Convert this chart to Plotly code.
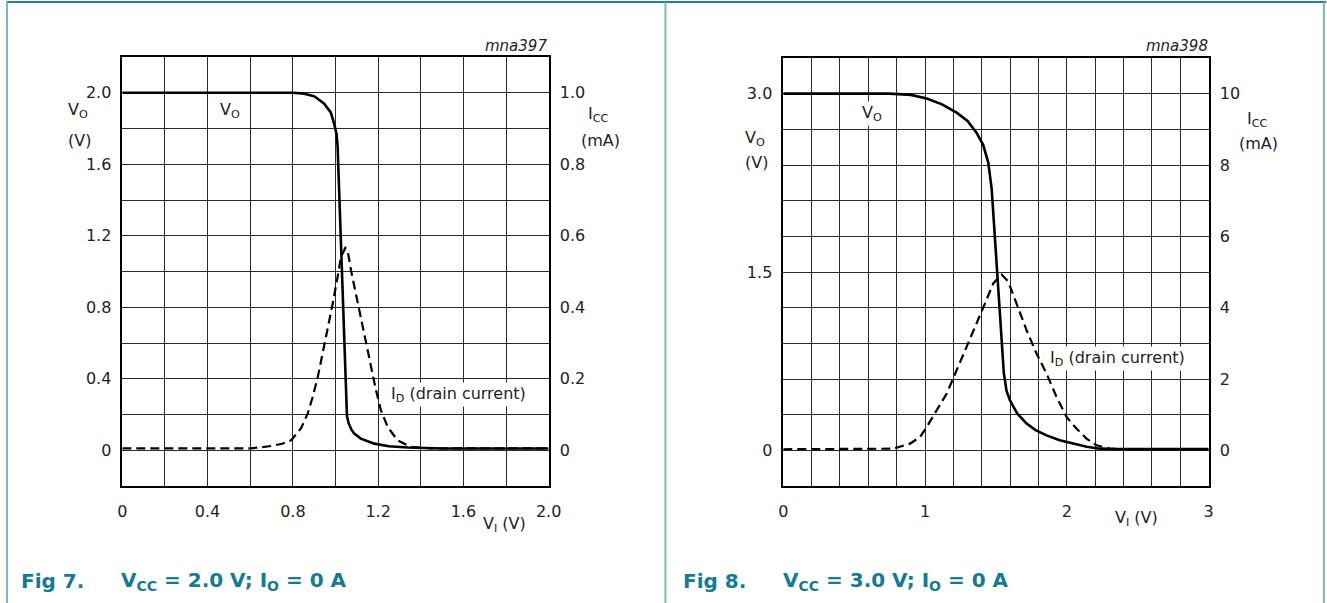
"""
Transfer characteristics (Fig 7 / Fig 8): V_O and I_D versus V_I.
"""

import plotly.graph_objects as go

W, H = 1327, 603
FONT = "DejaVu Sans, Liberation Sans, Arial"
TEAL = "#137b93"

# ---- Fig 7: VCC = 2.0 V ----
vi_vo7 = [0, 0.80, 0.853, 0.901, 0.946, 0.978, 0.993, 1.005, 1.010, 1.026, 1.041,
          1.054, 1.062, 1.075, 1.088, 1.119, 1.182, 1.25, 1.34, 1.5, 2.0]
vo7 = [2.0, 2.0, 1.995, 1.98, 1.94, 1.89, 1.83, 1.77, 1.70, 1.14, 0.58,
       0.19, 0.15, 0.115, 0.093, 0.065, 0.037, 0.022, 0.015, 0.01, 0.01]

vi_id7 = [0, 0.60, 0.70, 0.75, 0.792, 0.838, 0.870, 0.893, 0.917, 0.940, 0.963,
          0.987, 1.010, 1.026, 1.046, 1.057, 1.073, 1.096, 1.119, 1.143, 1.166,
          1.190, 1.213, 1.245, 1.291, 1.354, 1.45, 2.0]
id7 = [0.005, 0.005, 0.012, 0.018, 0.028, 0.061, 0.103, 0.149, 0.205, 0.270, 0.336,
       0.410, 0.485, 0.541, 0.566, 0.559, 0.503, 0.438, 0.364, 0.298, 0.233,
       0.168, 0.112, 0.065, 0.028, 0.009, 0.005, 0.005]

x_ticks7 = [0, 0.2, 0.4, 0.6, 0.8, 1.0, 1.2, 1.4, 1.6, 1.8, 2.0]
x_text7 = ["0", "", "0.4", "", "0.8", "", "1.2", "", "1.6", "", "2.0"]
vo_ticks7 = [-0.2, 0, 0.2, 0.4, 0.6, 0.8, 1.0, 1.2, 1.4, 1.6, 1.8, 2.0, 2.2]
vo_text7 = ["", "0", "", "0.4", "", "0.8", "", "1.2", "", "1.6", "", "2.0", ""]
icc_ticks7 = [0, 0.2, 0.4, 0.6, 0.8, 1.0]
icc_text7 = ["0", "0.2", "0.4", "0.6", "0.8", "1.0"]

# ---- Fig 8: VCC = 3.0 V ----
vi_vo8 = [0, 0.75, 0.90, 1.012, 1.12, 1.223, 1.30, 1.364, 1.41, 1.446, 1.47,
          1.481, 1.505, 1.528, 1.545, 1.556, 1.575, 1.599, 1.65, 1.716, 1.78,
          1.857, 1.95, 2.044, 2.14, 2.232, 2.35, 3.0]
vo8 = [3.0, 3.0, 2.99, 2.96, 2.91, 2.84, 2.77, 2.67, 2.57, 2.42, 2.2,
       1.99, 1.57, 1.15, 0.80, 0.646, 0.50, 0.421, 0.31, 0.225, 0.17,
       0.126, 0.085, 0.056, 0.03, 0.014, 0.01, 0.01]

vi_id8 = [0, 0.55, 0.777, 0.894, 0.965, 1.012, 1.082, 1.153, 1.223, 1.294, 1.364,
          1.423, 1.481, 1.540, 1.587, 1.646, 1.716, 1.787, 1.857, 1.927, 1.998,
          2.068, 2.139, 2.209, 2.303, 2.45, 3.0]
id8 = [0.03, 0.03, 0.047, 0.187, 0.374, 0.655, 1.124, 1.593, 2.247, 2.902, 3.558,
       4.12, 4.68, 4.93, 4.73, 4.12, 3.37, 2.71, 2.15, 1.50, 0.935,
       0.61, 0.33, 0.14, 0.047, 0.03, 0.03]

x_ticks8 = [round(0.2 * i, 1) for i in range(16)]
x_text8 = ["0", "", "", "", "", "1", "", "", "", "", "2", "", "", "", "", "3"]
vo_ticks8 = [round(-0.3 + 0.3 * i, 1) for i in range(13)]
vo_text8 = ["", "0", "", "", "", "", "1.5", "", "", "", "", "3.0", ""]
icc_ticks8 = [0, 2, 4, 6, 8, 10]
icc_text8 = ["0", "2", "4", "6", "8", "10"]

# the page came out a little narrower than asked; these undo it
SX, OX = 0.988, 3.5


def px(x):
    return (x - OX) / SX / W


def py(y):
    return 1 - y / H


fig = go.Figure()
solid = dict(color="black", width=2.6)
dashed = dict(color="black", width=2.2, dash="9px,5px")
fig.add_trace(go.Scatter(x=vi_id7, y=id7, mode="lines", line=dashed, xaxis="x", yaxis="y2"))
fig.add_trace(go.Scatter(x=vi_vo7, y=vo7, mode="lines", line=solid, xaxis="x", yaxis="y"))
fig.add_trace(go.Scatter(x=vi_id8, y=id8, mode="lines", line=dashed, xaxis="x2", yaxis="y4"))
fig.add_trace(go.Scatter(x=vi_vo8, y=vo8, mode="lines", line=solid, xaxis="x2", yaxis="y3"))

tickfont = dict(family=FONT, size=16, color="#222")
grid = dict(showgrid=True, gridcolor="#2a2a2a", gridwidth=1, zeroline=False,
            showline=True, linecolor="black", linewidth=1.5, mirror=True,
            tickfont=tickfont, ticks="outside", tickcolor="rgba(0,0,0,0)",
            fixedrange=True)
side = dict(showgrid=False, zeroline=False, showline=False, tickfont=tickfont,
            ticks="outside", tickcolor="rgba(0,0,0,0)", ticklen=7, side="right",
            fixedrange=True)

dom_y7 = [py(486), py(57)]
dom_y8 = [py(486), py(58)]
fig.update_layout(
    width=W, height=H, margin=dict(l=0, r=0, t=0, b=0),
    paper_bgcolor="white", plot_bgcolor="white", showlegend=False,
    xaxis=dict(domain=[px(121), px(548)], range=[0, 2.0], anchor="y",
               tickvals=x_ticks7, ticktext=x_text7, ticklen=10, **grid),
    yaxis=dict(domain=dom_y7, range=[-0.2, 2.2], anchor="x",
               tickvals=vo_ticks7, ticktext=vo_text7, ticklen=6, **grid),
    yaxis2=dict(overlaying="y", anchor="x", range=[-0.1, 1.1],
                tickvals=icc_ticks7, ticktext=icc_text7, **side),
    xaxis2=dict(domain=[px(783), px(1209)], range=[0, 3.0], anchor="y3",
                tickvals=x_ticks8, ticktext=x_text8, ticklen=10, **grid),
    yaxis3=dict(domain=dom_y8, range=[-0.3, 3.3], anchor="x2",
                tickvals=vo_ticks8, ticktext=vo_text8, ticklen=6, **grid),
    yaxis4=dict(overlaying="y3", anchor="x2", range=[-1, 11],
                tickvals=icc_ticks8, ticktext=icc_text8, **side),
)

lbl = dict(family=FONT, size=16, color="#222")
notes = [
    # Fig 7 axis titles
    ("V<sub>O</sub>", 65, 110, "left"), ("(V)", 65, 140, "left"),
    ("I<sub>CC</sub>", 585, 114, "left"), ("(mA)", 578, 140, "left"),
    ("V<sub>I</sub> (V)", 527, 524, "right"),
    # Fig 8 axis titles
    ("V<sub>O</sub>", 743, 139, "left"), ("(V)", 743, 162, "left"),
    ("I<sub>CC</sub>", 1245, 120, "left"), ("(mA)", 1237, 143, "left"),
    ("V<sub>I</sub> (V)", 1160, 518, "right"),
]
for text, x, y, anchor in notes:
    fig.add_annotation(text=text, x=px(x), y=py(y), xref="paper", yref="paper",
                       xanchor=anchor, yanchor="middle", showarrow=False, font=lbl)

for text, x in [("mna397", 548), ("mna398", 1210)]:
    fig.add_annotation(text="<i>" + text + "</i>", x=px(x), y=py(46), xref="paper",
                       yref="paper", xanchor="right", yanchor="middle", showarrow=False,
                       font=dict(family=FONT, size=15, color="#222"))

# in-plot curve labels
inline = [
    ("V<sub>O</sub>", 0.45, 1.90, "x", "y"),
    ("I<sub>D</sub> (drain current)", 1.25, 0.31, "x", "y"),
    ("V<sub>O</sub>", 0.54, 2.83, "x2", "y3"),
    ("I<sub>D</sub> (drain current)", 1.866, 0.775, "x2", "y3"),
]
for text, x, y, xr, yr in inline:
    fig.add_annotation(text=text, x=x, y=y, xref=xr, yref=yr, xanchor="left",
                       yanchor="middle", showarrow=False, font=lbl,
                       bgcolor="white", borderpad=1)

cap = dict(family=FONT, size=20, color=TEAL)
for fig_no, rest, x0 in [("Fig 7.", "V<sub>CC</sub> = 2.0 V; I<sub>O</sub> = 0 A", 18),
                         ("Fig 8.", "V<sub>CC</sub> = 3.0 V; I<sub>O</sub> = 0 A", 681)]:
    fig.add_annotation(text="<b>" + fig_no + "</b>", x=px(x0), y=py(581), xref="paper",
                       yref="paper", xanchor="left", yanchor="middle", showarrow=False, font=cap)
    fig.add_annotation(text="<b>" + rest + "</b>", x=px(x0 + 100), y=py(581), xref="paper",
                       yref="paper", xanchor="left", yanchor="middle", showarrow=False, font=cap)

# page frame
fig.add_shape(type="line", xref="paper", yref="paper", x0=px(5), x1=px(1327), y0=py(2),
              y1=py(2), line=dict(color="#2a7d92", width=2))
for x in [5.5, 665, 1324.5]:
    fig.add_shape(type="line", xref="paper", yref="paper", x0=px(x), x1=px(x),
                  y0=py(2), y1=0, line=dict(color="#7db8c7", width=2))

fig.write_html(
    "out.html", config={"displayModeBar": False, "responsive": False},
    post_script="document.body.style.margin='0';"
                "document.body.style.overflow='hidden';"
                "document.documentElement.style.overflow='hidden';",
)
